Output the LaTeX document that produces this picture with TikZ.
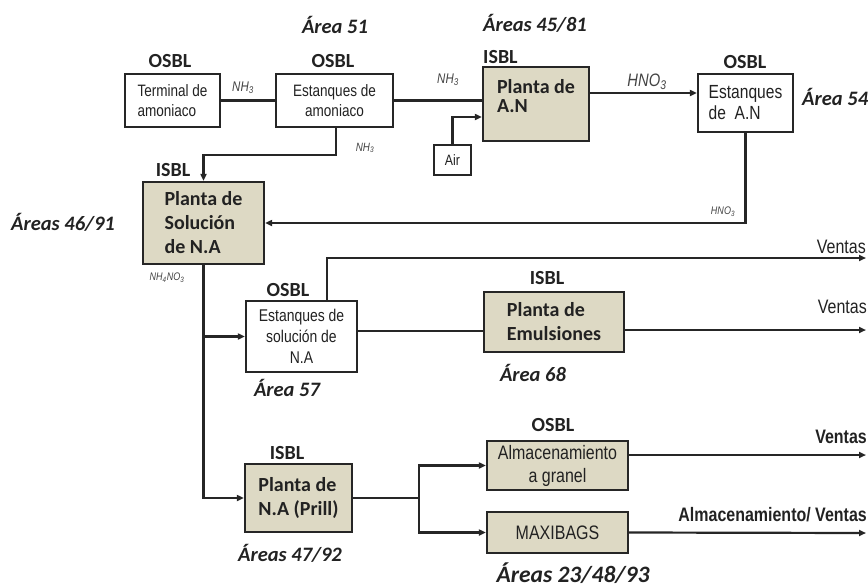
\documentclass[tikz,border=0pt]{standalone}
\usepackage{fontspec}
\setmainfont{Carlito}
\newfontfamily\narrowsans[FakeStretch=0.82]{Liberation Sans}
\usetikzlibrary{arrows.meta}

\definecolor{linec}{HTML}{262626}
\definecolor{textc}{HTML}{222222}
\definecolor{tanfill}{HTML}{DDD9C4}

\tikzset{
  box/.style={draw=linec, line width=2.2pt, inner sep=0pt, text=textc},
  tanbox/.style={box, fill=tanfill},
  plainbox/.style={box, fill=white},
  flow/.style={draw=linec, line width=2.2pt},
  arr/.style={flow, -{Triangle[length=7pt,width=6pt]}},
  boldtxt/.style={font=\fontsize{20}{24}\selectfont\bfseries, align=left},
  narrowtxt/.style={font=\narrowsans\fontsize{16.5}{20}\selectfont, align=center},
  tag/.style={font=\fontsize{20}{24}\selectfont\bfseries, text=textc, inner sep=0pt},
  area/.style={font=\fontsize{20.5}{24}\selectfont\bfseries\itshape, text=textc, inner sep=0pt},
  stream/.style={font=\narrowsans\fontsize{14}{16}\selectfont\itshape, text=textc!85, inner sep=0pt},
  sale/.style={font=\narrowsans\fontsize{19.5}{22}\selectfont, text=textc, inner sep=0pt},
}

\begin{document}
\begin{tikzpicture}[x=1pt, y=-1pt]
\useasboundingbox (0,0) rectangle (868,587);

% ---------- units ----------
\node[plainbox, minimum width=95, minimum height=53, narrowtxt, align=left]
  (term) at (172.5,100.5) {Terminal de\\amoniaco};
\node[plainbox, minimum width=117, minimum height=53, narrowtxt]
  (estam) at (334.5,100.5) {Estanques de\\amoniaco};
\node[tanbox, minimum width=106, minimum height=74]
  (pan) at (536,104) {};
\node[boldtxt, font=\fontsize{20}{19}\selectfont\bfseries, inner sep=0pt, text=textc]
  (pantxt) at (536,96) {Planta de\\A.N};
\node[plainbox, minimum width=95, minimum height=58, narrowtxt, align=left,
      font=\narrowsans\fontsize{19}{21}\selectfont]
  (estan) at (745.5,103) {Estanques\\de~ A.N};
\node[plainbox, minimum width=37, minimum height=30, narrowtxt,
      font=\narrowsans\fontsize{15}{18}\selectfont]
  (air) at (452.5,160) {Air};
\node[tanbox, minimum width=121, minimum height=82, boldtxt]
  (psol) at (203.5,223) {Planta de\\Solución\\de N.A};
\node[plainbox, minimum width=111, minimum height=71, narrowtxt,
      font=\narrowsans\fontsize{17}{21}\selectfont]
  (esol) at (301.5,336.5) {Estanques de\\solución de\\N.A};
\node[tanbox, minimum width=140, minimum height=60, boldtxt]
  (pemu) at (554,322) {Planta de\\Emulsiones};
\node[tanbox, minimum width=107, minimum height=68, boldtxt]
  (prill) at (298.5,498) {Planta de\\N.A (Prill)};
\node[tanbox, minimum width=141, minimum height=49, narrowtxt,
      font=\narrowsans\fontsize{19.5}{23}\selectfont]
  (alm) at (557.5,465.5) {Almacenamiento\\a granel};
\node[tanbox, minimum width=141, minimum height=41, narrowtxt,
      font=\narrowsans\fontsize{19.5}{23}\selectfont]
  (maxi) at (557.5,532.5) {MAXIBAGS};

% ---------- free ends at the right border ----------
\coordinate (outA) at (866,258);
\coordinate (outB) at (866,330);
\coordinate (outC) at (866,455);
\coordinate (outD) at (866,533);

% ---------- connectors ----------
\draw[flow] (term.east) -- (estam.west);
\draw[flow] (estam.east) -- (estam.east -| pan.west);
\draw[arr] (air.north) |- ([yshift=-13pt]pan.west);
\draw[arr] ([yshift=11pt]pan.east) -- ([yshift=11pt]pan.east -| estan.west);
\draw[arr] ([xshift=1.5pt]estam.south) -- ++(0,27) -| (psol.north);
\draw[arr] (estan.south) |- (psol.east);
\draw[arr] (psol.south) |- (prill.west);
\draw[arr] (psol.south |- esol.west) -- (esol.west);
\draw[arr] ([xshift=25.5pt]esol.north) |- (outA);
\draw[flow] ([yshift=5.5pt]esol.east) -- ([yshift=5.5pt]esol.east -| pemu.west);
\draw[arr] ([yshift=-8pt]pemu.east) -- (outB);
\draw[flow] (prill.east) -- ++(66,0) coordinate (split);
\draw[arr] (split) |- (alm.west);
\draw[arr] (split) |- (maxi.west);
\draw[arr] ([yshift=10.5pt]alm.east) -- (outC);
\draw[arr] (maxi.east) -- (outD);

% ---------- OSBL / ISBL tags ----------
\node[tag] (t1) at (170,61) {OSBL};
\node[tag] (t2) at (333,61) {OSBL};
\node[tag] (t3) at (745,62) {OSBL};
\node[tag] (t4) at (288,290) {OSBL};
\node[tag] (t5) at (553,425) {OSBL};
\node[tag, anchor=west] (t6) at (483,57) {ISBL};
\node[tag] (t7) at (173,170) {ISBL};
\node[tag] (t8) at (547,278) {ISBL};
\node[tag] (t9) at (287,453) {ISBL};

% ---------- area labels ----------
\node[area] (a51) at (335,25) {Área 51};
\node[area] (a45) at (535,23) {Áreas 45/81};
\node[area, anchor=west] (a54) at (802,97) {Área 54};
\node[area] (a46) at (63,222) {Áreas 46/91};
\node[area] (a57) at (287,388) {Área 57};
\node[area] (a68) at (533,373) {Área 68};
\node[area] (a47) at (290,553) {Áreas 47/92};
\node[area, font=\fontsize{23.5}{26}\selectfont\bfseries\itshape] (a23) at (573,573) {Áreas 23/48/93};

% ---------- stream labels ----------
\node[stream] (s1) at (243,88) {NH\textsubscript{3}};
\node[stream] (s2) at (448,80) {NH\textsubscript{3}};
\node[stream, font=\narrowsans\fontsize{12}{14}\selectfont\itshape] (s3) at (365,148) {NH\textsubscript{3}};
\node[stream, font=\narrowsans\fontsize{18}{20}\selectfont\itshape] (s4) at (647,82) {HNO\textsubscript{3}};
\node[stream, font=\narrowsans\fontsize{11}{13}\selectfont\itshape] (s5) at (723,212) {HNO\textsubscript{3}};
\node[stream, font=\narrowsans\fontsize{11}{13}\selectfont\itshape] (s6) at (167,278) {NH\textsubscript{4}NO\textsubscript{3}};
\node[sale, anchor=east] (v1) at (866,247) {Ventas};
\node[sale, anchor=east] (v2) at (867,307) {Ventas};
\node[sale, anchor=east, font=\narrowsans\fontsize{19.5}{22}\selectfont\bfseries] (v3) at (867,437) {Ventas};
\node[sale, anchor=east, font=\narrowsans\fontsize{19.5}{22}\selectfont\bfseries] (v4) at (867,515) {Almacenamiento/ Ventas};
\end{tikzpicture}
\end{document}
